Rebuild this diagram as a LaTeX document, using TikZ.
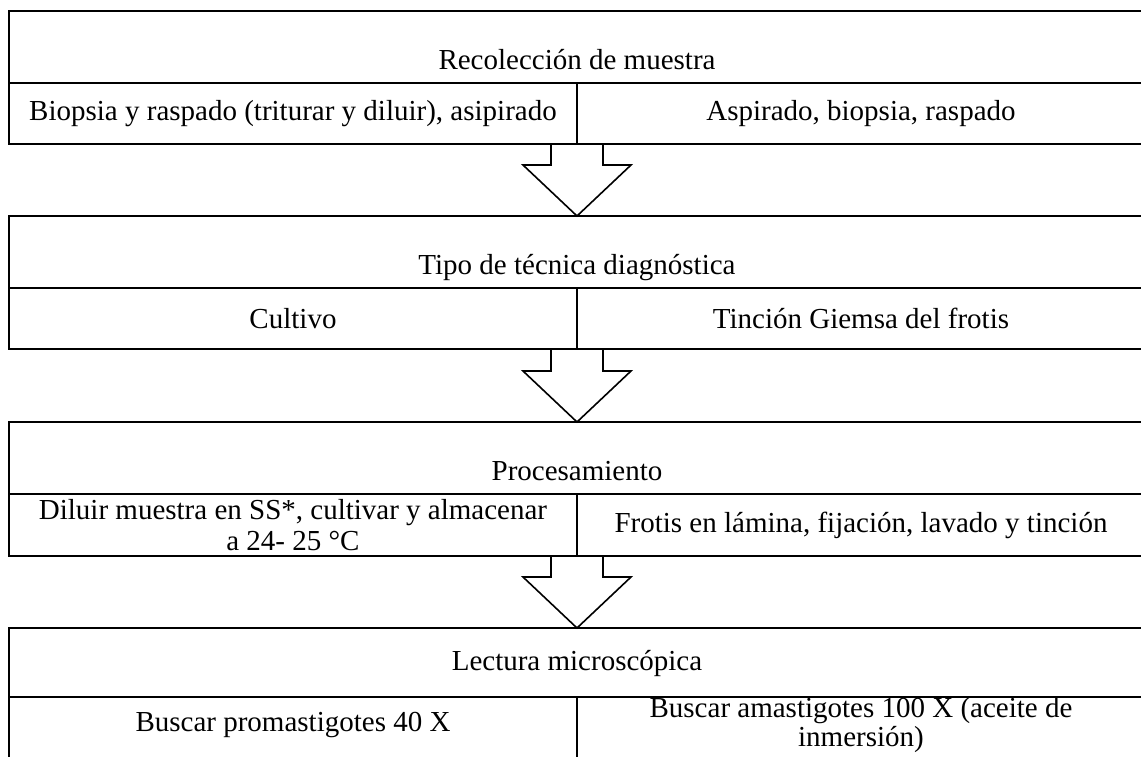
\documentclass[tikz,border=0pt]{standalone}
\usepackage{fontspec}
\setmainfont{Liberation Serif}
\usetikzlibrary{calc}
\begin{document}
\begin{tikzpicture}[
  x=1pt, y=-1pt,
  font=\fontsize{29}{31}\selectfont,
  line width=1.6pt,
  tit/.style={draw, minimum width=1136pt, inner xsep=0pt, inner ysep=0pt, outer sep=0pt, text height=58pt, text depth=14pt, anchor=north west},
  cell/.style={draw, minimum width=568pt, minimum height=#1, inner sep=0pt, outer sep=0pt, align=center, anchor=north west},
  cell/.default=61pt,
  flecha/.style={draw, line join=miter}]

\clip (0,0) rectangle (1141,756);

% Recoleccion de muestra
\node[tit] (t1) at (9,11) {Recolección de muestra};
\node[cell] (l1) at (9,83) {Biopsia y raspado (triturar y diluir), asipirado};
\node[cell] (r1) at (577,83) {Aspirado, biopsia, raspado};

% Tipo de tecnica
\node[tit] (t2) at (9,216) {Tipo de técnica diagnóstica};
\node[cell] (l2) at (9,288) {Cultivo};
\node[cell] (r2) at (577,288) {Tinción Giemsa del frotis};

% Procesamiento
\node[tit] (t3) at (9,422) {Procesamiento};
\node[cell=62pt] (l3) at (9,494) {Diluir muestra en SS*, cultivar y almacenar\\a 24- 25 °C};
\node[cell=62pt] (r3) at (577,494) {Frotis en lámina, fijación, lavado y tinción};

% Lectura (sigue debajo del borde)
\node[tit, text height=42pt, text depth=27pt] (t4) at (9,628) {Lectura microscópica};
\node[cell=56pt, draw=none] (l4) at (9,697) {Buscar promastigotes 40 X};
\node[cell=56pt, draw=none, font=\fontsize{29}{29}\selectfont] (r4) at (577,697) {Buscar amastigotes 100 X (aceite de\\inmersión)};
\draw (l4.north west) -- ++(0,70);
\draw (l4.north east) -- ++(0,70);

% Flechas
\draw[flecha] ($(l1.south east)+(-26,0)$) -- ++(0,21) -- ++(-28,0) -- (t2.north) -- ($(l1.south east)+(54,21)$) -- ++(-28,0) -- ++(0,-21);
\draw[flecha] ($(l2.south east)+(-26,0)$) -- ++(0,22) -- ++(-28,0) -- (t3.north) -- ($(l2.south east)+(54,22)$) -- ++(-28,0) -- ++(0,-22);
\draw[flecha] ($(l3.south east)+(-26,0)$) -- ++(0,21) -- ++(-28,0) -- (t4.north) -- ($(l3.south east)+(54,21)$) -- ++(-28,0) -- ++(0,-21);

\end{tikzpicture}
\end{document}
